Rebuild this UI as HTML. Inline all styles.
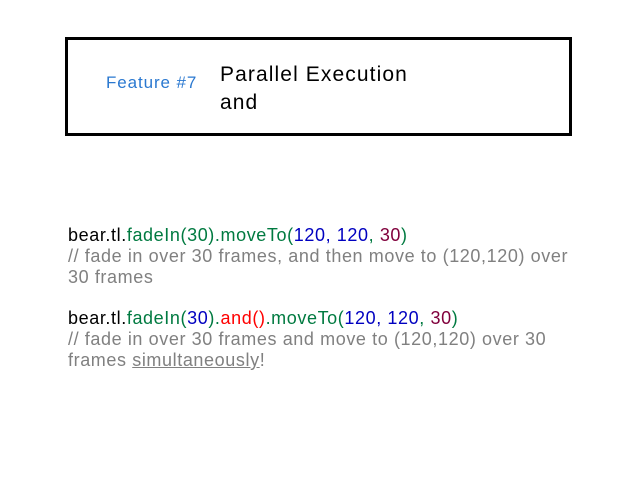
<!DOCTYPE html>
<html><head><style>
body{margin:0;width:638px;height:479px;background:#fff;font-family:"Liberation Sans",sans-serif;position:relative;overflow:hidden}
.box{position:absolute;left:65px;top:37px;width:501px;height:93px;border:3px solid #000}
.f{position:absolute;left:106px;top:73px;font-size:17px;letter-spacing:0.9px;color:#2a78d0}
.t{position:absolute;left:220px;top:61px;font-size:21px;letter-spacing:1.1px;line-height:28px;color:#000}
.c{position:absolute;left:68px;font-size:18px;letter-spacing:0.6px;line-height:21px;color:#000;white-space:nowrap}
.g{color:#007a40}.b{color:#0000c0}.m{color:#80003c}.r{color:#f00}.k{color:#808080}
</style></head><body>
<div class="box"></div>
<div class="f">Feature #7</div>
<div class="t">Parallel Execution<br>and</div>
<div class="c" style="top:225px">bear.tl.<span class="g">fadeIn(30).moveTo(</span><span class="b">120, 120</span><span class="g">, </span><span class="m">30</span><span class="g">)</span><br><span class="k">// fade in over 30 frames, and then move to (120,120) over<br>30 frames</span></div>
<div class="c" style="top:308px">bear.tl.<span class="g">fadeIn(</span><span class="b">30</span><span class="g">).</span><span class="r">and()</span><span class="g">.moveTo(</span><span class="b">120, 120</span><span class="g">, </span><span class="m">30</span><span class="g">)</span><br><span class="k">// fade in over 30 frames and move to (120,120) over 30<br>frames <u>simultaneously</u>!</span></div>
</body></html>
